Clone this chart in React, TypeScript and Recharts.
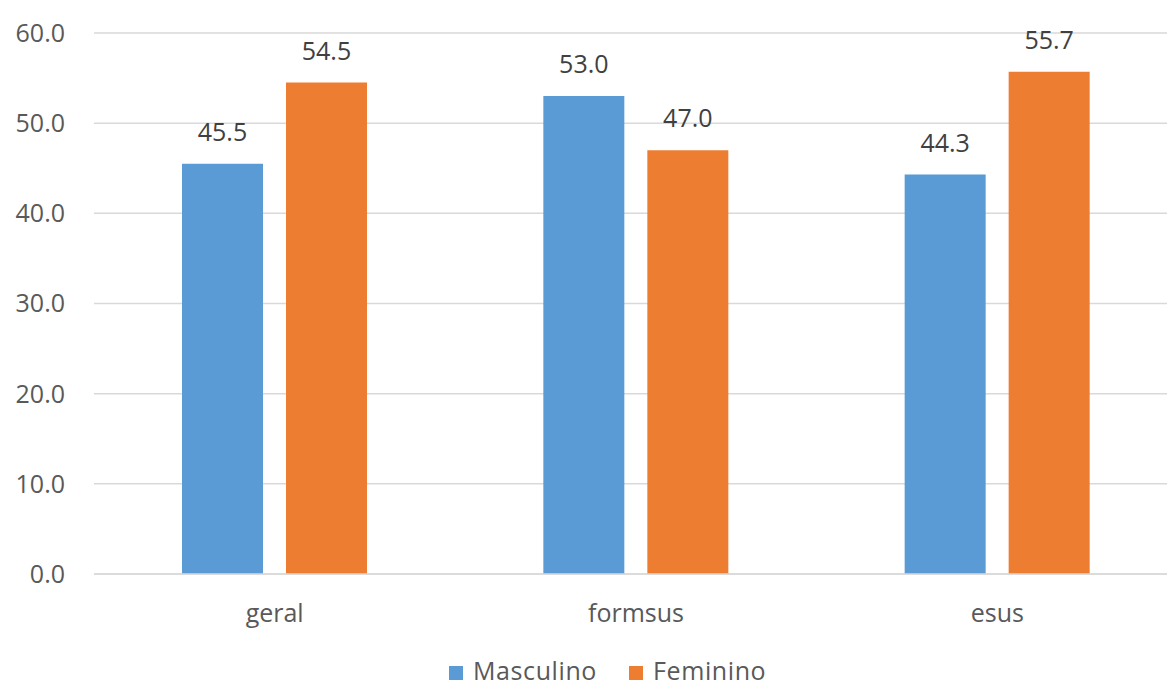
import { BarChart, Bar, XAxis, YAxis, CartesianGrid, Legend, LabelList } from 'recharts';

const categories = ['geral', 'formsus', 'esus'];
const seriesNames = ['Masculino', 'Feminino'];
const masculino = [45.5, 53.0, 44.3];
const feminino = [54.5, 47.0, 55.7];
const yTicks = [0, 10, 20, 30, 40, 50, 60];

const data = categories.map((name, i) => ({
  name,
  Masculino: masculino[i],
  Feminino: feminino[i],
}));

const FONT = '"Open Sans", "Noto Sans", sans-serif';

const LegendContent = ({ payload }: any) => {
  const items = [...(payload || [])].sort(
    (a: any, b: any) => seriesNames.indexOf(a.value) - seriesNames.indexOf(b.value)
  );
  return (
    <div style={{ display: 'flex', alignItems: 'center', height: 28, fontFamily: FONT, fontSize: 25, color: '#595959', letterSpacing: 0.6 }}>
      {items.map((item: any, i: number) => (
        <div key={item.value} style={{ display: 'flex', alignItems: 'center', marginRight: i === 0 ? 32 : 0 }}>
          <div style={{ width: 14, height: 14, background: item.color, marginRight: 10, marginTop: 6 }} />
          <span style={{ lineHeight: '26px' }}>{item.value}</span>
        </div>
      ))}
    </div>
  );
};

export default function App() {
  return (
    <div style={{ position: 'absolute', left: 0, top: 0, width: 1167, height: 689, overflow: 'hidden', background: '#fff' }}>
      <BarChart
        width={1178}
        height={689}
        data={data}
        margin={{ top: 33, right: 0, left: 0, bottom: 0 }}
        barSize={81}
        barGap={23}
      >
        <CartesianGrid vertical={false} stroke="#d9d9d9" strokeWidth={1.5} />
        <XAxis
          dataKey="name"
          height={87}
          axisLine={{ stroke: '#d9d9d9', strokeWidth: 1.5 }}
          tickLine={false}
          tickSize={0}
          tickMargin={30}
          tick={{ fill: '#595959', fontSize: 25, fontFamily: FONT }}
        />
        <YAxis
          width={94}
          domain={[0, 60]}
          ticks={yTicks}
          axisLine={false}
          tickLine={false}
          tickSize={0}
          tickMargin={29}
          tickFormatter={(v: number) => v.toFixed(1)}
          tick={{ fill: '#595959', fontSize: 25, fontFamily: FONT }}
        />
        <Legend
          verticalAlign="bottom"
          align="left"
          content={<LegendContent />}
          wrapperStyle={{ left: 449, width: 420, top: 656 }}
        />
        <Bar dataKey="Masculino" fill="#5B9BD5" isAnimationActive={false}>
          <LabelList
            dataKey="Masculino"
            position="top"
            offset={23}
            formatter={(v: any) => Number(v).toFixed(1)}
            style={{ fill: '#404040', fontSize: 25, fontFamily: FONT }}
          />
        </Bar>
        <Bar dataKey="Feminino" fill="#ED7D31" isAnimationActive={false}>
          <LabelList
            dataKey="Feminino"
            position="top"
            offset={23}
            formatter={(v: any) => Number(v).toFixed(1)}
            style={{ fill: '#404040', fontSize: 25, fontFamily: FONT }}
          />
        </Bar>
      </BarChart>
    </div>
  );
}
